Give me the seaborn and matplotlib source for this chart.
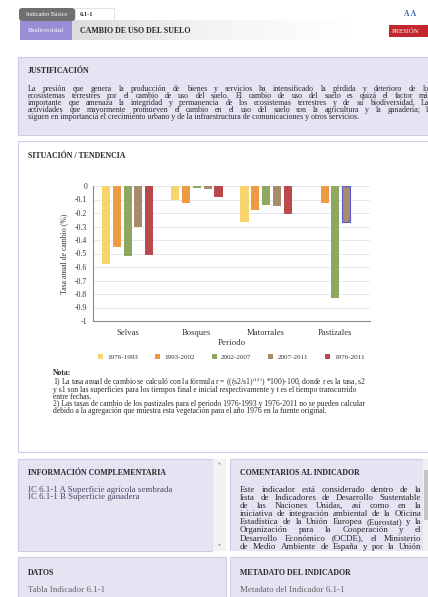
import numpy as np
import pandas as pd
import matplotlib
matplotlib.use("Agg")
import matplotlib.pyplot as plt
from matplotlib.patches import Rectangle, FancyBboxPatch
from matplotlib.colors import LinearSegmentedColormap
import seaborn as sns

# ------------------------ Données ------------------------
vegetacion = ["Selvas", "Bosques", "Matorrales", "Pastizales"]
periodos = ["1976-1993", "1993-2002", "2002-2007", "2007-2011", "1976-2011"]
colores = ["#F8D46C", "#EE9A42", "#8EA862", "#A88B6B", "#B9494C"]

tasa_1976_1993 = [-0.58, -0.10, -0.27, np.nan]
tasa_1993_2002 = [-0.45, -0.125, -0.18, -0.125]
tasa_2002_2007 = [-0.52, -0.015, -0.14, -0.83]
tasa_2007_2011 = [-0.30, -0.02, -0.15, -0.265]
tasa_1976_2011 = [-0.51, -0.085, -0.21, np.nan]

yticks = [0, -0.1, -0.2, -0.3, -0.4, -0.5, -0.6, -0.7, -0.8, -0.9, -1]

justificacion = [
    "La presión que genera la producción de bienes y servicios ha intensificado la pérdida y deterioro de los",
    "ecosistemas terrestres por el cambio de uso del suelo. El cambio de uso del suelo es quizá el factor más",
    "importante que amenaza la integridad y permanencia de los ecosistemas terrestres y de su biodiversidad. Las",
    "actividades que mayormente promueven el cambio en el uso del suelo son la agricultura y la ganadería; le",
    "siguen en importancia el crecimiento urbano y de la infraestructura de comunicaciones y otros servicios.",
]
nota = [
    r"1) La tasa anual de cambio se calculó con la fórmula r = (((s2/s1)$^{(1/t)}$) *100)-100, donde r es la tasa, s2",
    "y s1 son las superficies para los tiempos final e inicial respectivamente y t es el tiempo transcurrido",
    "entre fechas.",
    "2) Las tasas de cambio de los pastizales para el periodo 1976-1993 y 1976-2011 no se pueden calcular",
    "debido a la agregación que muestra esta vegetación para el año 1976 en la fuente original.",
]
info_comp = ["IC 6.1-1 A Superficie agrícola sembrada", "IC 6.1-1 B Superficie ganadera"]
comentarios = [
    "Este indicador está considerado dentro de la",
    "lista de Indicadores de Desarrollo Sustentable",
    "de las Naciones Unidas, así como en la",
    "iniciativa de integración ambiental de la Oficina",
    "Estadística de la Unión Europea (Eurostat) y la",
    "Organización para la Cooperación y el",
    "Desarrollo Económico (OCDE), el Ministerio",
    "de Medio Ambiente de España y por la Unión",
]

df = pd.DataFrame({
    "vegetacion": vegetacion * 5,
    "periodo": np.repeat(periodos, 4),
    "tasa": tasa_1976_1993 + tasa_1993_2002 + tasa_2002_2007 + tasa_2007_2011 + tasa_1976_2011,
}).dropna()

# ------------------------ Page ------------------------
sns.set_theme(style="white")
SERIF = ["Liberation Serif", "DejaVu Serif"]
plt.rcParams["font.family"] = SERIF
plt.rcParams["mathtext.fontset"] = "stix"

W, H = 428, 597
fig = plt.figure(figsize=(W / 100, H / 100), dpi=100)
fig.patch.set_facecolor("white")
bg = fig.add_axes([0, 0, 1, 1])
bg.set_xlim(0, W)
bg.set_ylim(H, 0)
bg.axis("off")
renderer = fig.canvas.get_renderer()

LAV = "#E6E3F3"
LAV_EDGE = "#CFCBE6"
TXT = "#2A2A2A"
FS_TITLE = 5.7
FS_PARA = 5.7
FS_NOTE = 5.5
FS_PANEL = 6.4


def box(x0, y0, x1, y1, fc, ec="none", lw=0.8, z=1):
    bg.add_patch(Rectangle((x0, y0), x1 - x0, y1 - y0, facecolor=fc, edgecolor=ec, lw=lw,
                           zorder=z))


def justify(text, x0, x1, y, fs, color=TXT):
    words = text.split()
    arts = [bg.text(0, y, w, fontsize=fs, color=color, va="baseline") for w in words]
    widths = [a.get_window_extent(renderer).width for a in arts]
    gap = (x1 - x0 - sum(widths)) / max(len(words) - 1, 1)
    x = x0
    for a, w in zip(arts, widths):
        a.set_x(x)
        x += w + gap


# en-tête
grad = LinearSegmentedColormap.from_list("g", ["#DCDCDC", "#F4F4F4", "#FFFFFF"])
bg.imshow(np.linspace(0, 1, 200)[None, :], cmap=grad, aspect="auto",
          extent=(72, 350, 40, 20), zorder=0)
bg.set_xlim(0, W)
bg.set_ylim(H, 0)
bg.add_patch(FancyBboxPatch((19, 8), 56, 13, boxstyle="round,pad=0,rounding_size=3",
                            facecolor="#6F6F6F", edgecolor="none"))
bg.text(47, 15, "Indicador Básico", fontsize=4.3, color="white", ha="center", va="center")
box(75, 8, 114, 20, "white", ec="#D8D8D8", lw=0.5)
bg.text(80, 14.5, "6.1-1", fontsize=4.6, color=TXT, va="center", weight="bold")
box(20, 21, 72, 40, "#9A8DD6")
bg.text(46, 30.5, "Biodiversidad", fontsize=4.6, color="white", ha="center", va="center")
bg.text(80, 31, "CAMBIO DE USO DEL SUELO", fontsize=5.7, color=TXT, va="center", weight="bold")
bg.text(410, 14, "A A", fontsize=5.5, color="#3D5FA8", ha="center", va="center", weight="bold")
box(389, 25, 430, 37, "#C1272D")
bg.text(392, 31, "PRESIÓN", fontsize=4.8, color="white", va="center")

# justificación
box(18, 57, 432, 135, LAV, ec=LAV_EDGE)
bg.text(28, 73, "JUSTIFICACIÓN", fontsize=FS_TITLE, color=TXT, weight="bold", va="baseline")
for i, line in enumerate(justificacion):
    y = 91 + i * 7
    if i < len(justificacion) - 1:
        justify(line, 28, 432, y, FS_PARA)
    else:
        bg.text(28, y, line, fontsize=FS_PARA, color=TXT, va="baseline")

# situación / tendencia
box(18, 141, 432, 452, "white", ec=LAV_EDGE)
bg.text(28, 158, "SITUACIÓN / TENDENCIA", fontsize=FS_TITLE, color=TXT, weight="bold", va="baseline")

bg.text(53, 375, "Nota:", fontsize=FS_NOTE, color=TXT, weight="bold", va="baseline")
for i, line in enumerate(nota):
    bg.text(53, 385 + i * 7, line, fontsize=FS_NOTE, color=TXT, va="baseline")

# panneaux du bas
box(18, 459, 213, 551, LAV, ec=LAV_EDGE)
box(213, 459, 226, 551, "#F2F2F2")
bg.text(219.5, 464, "▲", fontsize=2.5, color="#9A9A9A", ha="center", va="center",
        family="DejaVu Sans")
bg.text(219.5, 546, "▼", fontsize=2.5, color="#9A9A9A", ha="center", va="center",
        family="DejaVu Sans")
bg.text(28, 475, "INFORMACIÓN COMPLEMENTARIA", fontsize=FS_TITLE, color=TXT, weight="bold",
        va="baseline")
for i, line in enumerate(info_comp):
    bg.text(28, 492 + i * 7, line, fontsize=FS_PANEL, color="#4A4A66", va="baseline")

box(230, 459, 432, 551, LAV, ec=LAV_EDGE)
bg.text(240, 475, "COMENTARIOS AL INDICADOR", fontsize=FS_TITLE, color=TXT, weight="bold",
        va="baseline")
for i, line in enumerate(comentarios):
    justify(line, 240, 421, 492 + i * 8.1, FS_PANEL)
box(213, 551.4, 432, 557, "white", z=5)
box(423, 459, 428, 551, "#F0F0F0", z=5)
box(424, 470, 428, 520, "#C4C4C4", z=5)

box(18, 557, 226, 600, LAV, ec=LAV_EDGE, z=5)
bg.text(28, 575, "DATOS", fontsize=FS_TITLE, color=TXT, weight="bold", va="baseline", zorder=6)
bg.text(28, 592, "Tabla Indicador 6.1-1", fontsize=FS_PANEL, color="#666666", va="baseline",
        zorder=6)
box(230, 557, 432, 600, LAV, ec=LAV_EDGE, z=5)
bg.text(240, 575, "METADATO DEL INDICADOR", fontsize=FS_TITLE, color=TXT, weight="bold",
        va="baseline", zorder=6)
bg.text(240, 592, "Metadato del Indicador 6.1-1", fontsize=FS_PANEL, color="#666666",
        va="baseline", zorder=6)

# ------------------------ Graphique ------------------------
ax = fig.add_axes([93 / W, 1 - 321 / H, 277 / W, 135 / H])
sns.barplot(data=df, x="vegetacion", y="tasa", hue="periodo", order=vegetacion,
            hue_order=periodos, palette=colores, saturation=1, width=0.78, gap=0.25,
            errorbar=None, linewidth=0, ax=ax)
ax.containers[3][-1].set_edgecolor("#5A55D0")
ax.containers[3][-1].set_linewidth(0.8)

ax.set_ylim(-1, 0)
ax.set_xlim(-0.5, 3.5)
ax.set_yticks(yticks)
ax.set_yticklabels(["{:g}".format(v) for v in yticks])
ax.yaxis.grid(True, color="#E4E4E4", lw=0.6)
ax.set_axisbelow(True)
for s in ["top", "right"]:
    ax.spines[s].set_visible(False)
for s in ["left", "bottom"]:
    ax.spines[s].set_color("#8A8A8A")
    ax.spines[s].set_linewidth(0.8)
ax.tick_params(axis="both", colors="#8A8A8A", labelcolor="#333333",
               length=2, width=0.6, pad=2)
ax.tick_params(axis="y", labelsize=5.6)
ax.tick_params(axis="x", labelsize=6.2, pad=3.5)
ax.set_xlabel("Periodo", fontsize=6.4, color="#333333", labelpad=2)
ax.set_ylabel("Tasa anual de cambio (%)", fontsize=5.6, color="#333333", labelpad=5)

sns.move_legend(ax, "upper center", bbox_to_anchor=(0.5, -0.2), ncol=5, frameon=False,
                title=None, fontsize=5.1, handlelength=0.7, handleheight=0.7,
                columnspacing=2.4, handletextpad=0.6)
for t in ax.get_legend().get_texts():
    t.set_color("#333333")

fig.savefig("out.png", dpi=100)
